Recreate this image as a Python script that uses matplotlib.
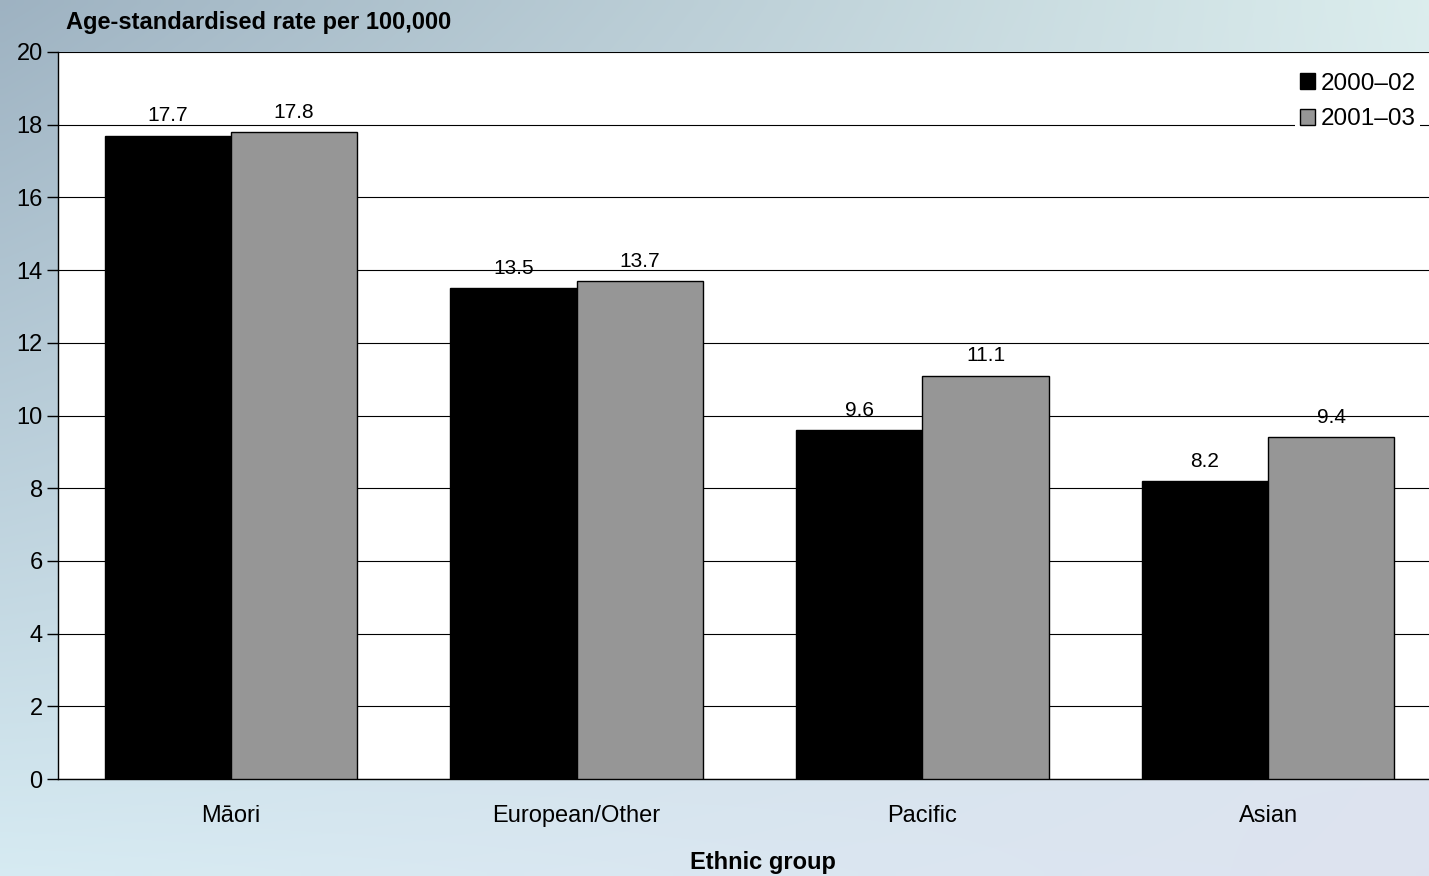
import numpy as np
import matplotlib.pyplot as plt

plt.rcParams['font.family'] = ['Liberation Sans', 'DejaVu Sans']

groups = ['Māori', 'European/Other', 'Pacific', 'Asian']
rate_2000_02 = [17.7, 13.5, 9.6, 8.2]
rate_2001_03 = [17.8, 13.7, 11.1, 9.4]
periods = ['2000–02', '2001–03']
yticks = [0, 2, 4, 6, 8, 10, 12, 14, 16, 18, 20]

fig = plt.figure(figsize=(14.29, 8.76), dpi=100)

# soft blue backdrop behind the chart
bg = fig.add_axes([0, 0, 1, 1], zorder=-10)
bg.axis('off')
tl = np.array([0.62, 0.70, 0.76])
tr = np.array([0.86, 0.93, 0.93])
bl = np.array([0.84, 0.92, 0.95])
br = np.array([0.87, 0.89, 0.94])
u = np.linspace(0, 1, 200)[None, :, None]
v = np.linspace(0, 1, 120)[:, None, None]
grad = (1 - v) * ((1 - u) * tl + u * tr) + v * ((1 - u) * bl + u * br)
bg.imshow(grad, aspect='auto', extent=[0, 1, 0, 1], interpolation='bilinear')

ax = fig.add_axes([58 / 1429, 1 - 779 / 876, (1441 - 58) / 1429, (779 - 52) / 876])
ax.set_facecolor('white')

x = np.arange(len(groups))
w = 0.365
b1 = ax.bar(x - w / 2, rate_2000_02, w, color='black', edgecolor='black', lw=1, label=periods[0], zorder=3)
b2 = ax.bar(x + w / 2, rate_2001_03, w, color='#969696', edgecolor='black', lw=1, label=periods[1], zorder=3)

for bars, vals in ((b1, rate_2000_02), (b2, rate_2001_03)):
    for r, val in zip(bars, vals):
        ax.annotate(f'{val:.1f}', (r.get_x() + r.get_width() / 2, val),
                    xytext=(0, 7.5), textcoords='offset points',
                    ha='center', va='bottom', fontsize=15)

ax.set_xlim(-0.5, 3.5)
ax.set_ylim(0, 20)
ax.set_yticks(yticks)
ax.yaxis.grid(True, color='black', lw=0.8, zorder=0)
ax.set_axisbelow(True)
ax.set_xticks(x)
ax.set_xticklabels(groups, fontsize=17)
ax.tick_params(axis='x', length=0, pad=19)
ax.tick_params(axis='y', length=8, width=1, labelsize=17, pad=3)
for s in ['top', 'right']:
    ax.spines[s].set_visible(False)
ax.spines['left'].set_linewidth(1)
ax.spines['bottom'].set_linewidth(1)

fig.text(763 / 1429, 1 - 862 / 876, 'Ethnic group', fontsize=17,
         fontweight='bold', ha='center', va='center')
fig.text(66 / 1429, 1 - 22 / 876, 'Age-standardised rate per 100,000',
         fontsize=17, fontweight='bold', va='center', ha='left')

leg = ax.legend(loc='upper right', bbox_to_anchor=(0.985, 0.978), frameon=True,
                fontsize=17.5, handlelength=0.65, handleheight=0.65, handletextpad=0.2,
                labelspacing=0.55, borderpad=0.2, borderaxespad=0, fancybox=False)
leg.get_frame().set_edgecolor('none')
leg.get_frame().set_facecolor('white')
leg.get_frame().set_alpha(1)

fig.savefig('out.png', dpi=100)
